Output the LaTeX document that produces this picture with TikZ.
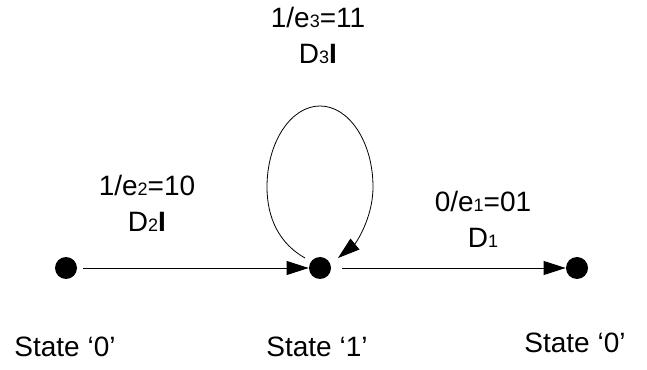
\documentclass[tikz,border=0pt]{standalone}
\usepackage{fontspec}
\setmainfont{Liberation Sans}
\usetikzlibrary{arrows.meta}

\newcommand{\smalldig}[1]{{\fontsize{18}{18}\selectfont #1}}

\tikzset{
  statedot/.style={circle,fill=black,inner sep=0pt,minimum size=22pt},
  edgelabel/.style={align=center,inner sep=0pt,font=\fontsize{28}{36}\selectfont},
  statename/.style={inner sep=0pt,font=\fontsize{28}{36}\selectfont},
}

\begin{document}
\begin{tikzpicture}[x=1pt,y=1pt,line width=0.8pt,
  >={Triangle[length=22pt,width=14pt]}]
  \useasboundingbox (0,0) rectangle (647,369);

  % states
  \node[statedot] (s0) at (66,101) {};
  \node[statedot] (s1) at (320,101) {};
  \node[statedot] (s2) at (577,101) {};

  \node[statename] (n0) at (65,22) {State ‘0’};
  \node[statename] (n1) at (317,22) {State ‘1’};
  \node[statename] (n2) at (575,26) {State ‘0’};

  % transitions
  \draw[->,shorten <=6pt] (s0) -- (s1);
  \draw[->,shorten <=11pt] (s1) -- (s2);
  \draw[->] ([shift={(-15pt,10pt)}]s1.center)
    .. controls +(-25,14) and +(0,-32) .. ++(-38,71)
    .. controls +(0,45) and +(-29,0) .. ++(53,81)
    .. controls +(29,0) and +(0,45) .. ++(53,-81)
    .. controls +(0,-32) and +(17,14) .. ++(-35,-71);

  % labels
  \node[edgelabel] (l01) at (147,165.5) {1/e\smalldig{2}=10\\D\smalldig{2}\textbf{I}};
  \node[edgelabel] (l11) at (318,334) {1/e\smalldig{3}=11\\D\smalldig{3}\textbf{I}};
  \node[edgelabel] (l10) at (483,149.5) {0/e\smalldig{1}=01\\D\smalldig{1}};
\end{tikzpicture}
\end{document}
